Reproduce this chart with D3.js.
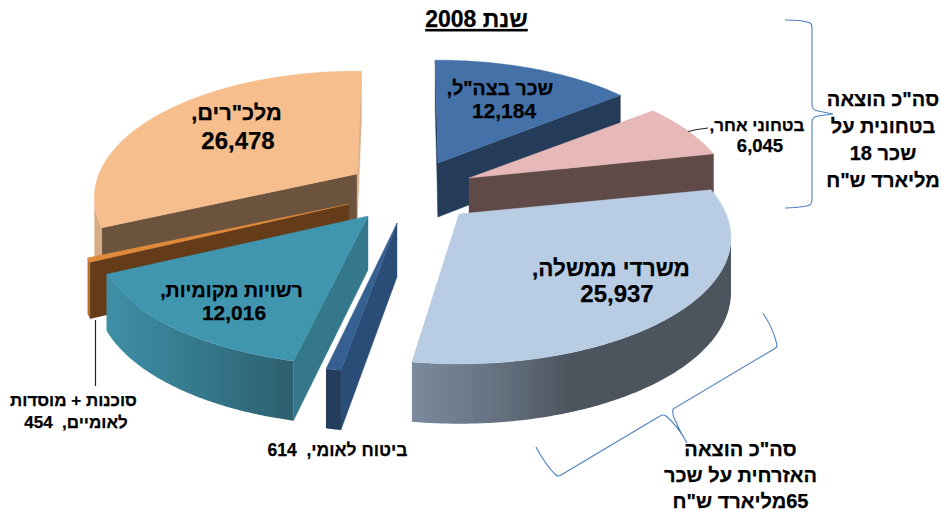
<!DOCTYPE html>
<html lang="he"><head><meta charset="utf-8">
<script src="https://cdnjs.cloudflare.com/ajax/libs/d3/7.8.5/d3.min.js"></script>
<style>html,body{margin:0;padding:0;background:#fff}svg{display:block}
text{font-family:"Liberation Sans",Arial,sans-serif;font-weight:bold;fill:#000;stroke:#000;stroke-width:0.25px;direction:rtl;text-anchor:middle}</style>
</head><body><svg id="c" width="941" height="511"></svg>
<script>
// data (clockwise from top)
const categories = ['שכר בצה"ל','בטחוני אחר','משרדי ממשלה','ביטוח לאומי','רשויות מקומיות','סוכנות + מוסדות לאומיים','מלכ"רים'];
const values = [12184, 6045, 25937, 614, 12016, 454, 26478];
const valueLabels = ['12,184','6,045','25,937','614','12,016','454','26,478'];

// styling & layout
const topColors  = ['#4472a8','#e6b8b7','#b8cce4','#376092','#4096ae','#e08a3c','#f6be8c'];
const wallColors = ['#243c5a','#5f4a48','#4c545d','#2a4d78','#36788b','#643c1a','#6b533e'];
const endWallColors = ['#243c5a','#5f4a48','#4c545d','#2a4d78','#36788b','#643c1a','#dcb08a'];
const rimColors  = ['#243c5a','#5f4a48','url(#gGov)','#243d5c','url(#gLoc)','#b86f2c','#d9ac85'];
const apexX = [438,469,459,397,368,349,357];
const apexY = [163,178,214,223,216,204,174];
const radiusK = [0.99,0.99,1.02,1.04,1.02,1.01,0.985];
const startNudgeDeg = [-0.5,0,0,0,0.9,0,0];
const endNudgeDeg   = [-0.5,0,-1.4,0,0,0,1.4];
const drawOrder = [6,5,4,0,1,2,3];

const svg = d3.select('#c');
const defs = svg.append('defs');
function grad(id,x1,x2,stops){
  const g=defs.append('linearGradient').attr('id',id).attr('gradientUnits','userSpaceOnUse')
    .attr('x1',x1).attr('x2',x2).attr('y1',0).attr('y2',0);
  stops.forEach(s=>g.append('stop').attr('offset',s[0]).attr('stop-color',s[1]));
}
grad('gGov',413,730,[[0,'#7b8a9c'],[0.3,'#626e7c'],[0.5,'#4c545d'],[1,'#4c545d']]);
grad('gLoc',107,296,[[0,'#3f8fa6'],[0.5,'#35788c'],[1,'#2d5e6d']]);

const pie = d3.pie().sort(null).startAngle(-0.004).endAngle(2*Math.PI-0.004);
const arcs = pie(values);
const R=262, T=122, K=0.186, D=54;
const persp = a => 1/(1+K*Math.cos(a));
const px = (a,rk) => R*rk*Math.sin(a)*persp(a);
const py = a => -T*Math.cos(a)*persp(a);
const depth = a => D*Math.sqrt(persp(a));
const line = d3.line().x(d=>d[0]).y(d=>d[1]);
const rad = Math.PI/180;

drawOrder.forEach(i=>{
  const d0=arcs[i], ax=apexX[i], ay=apexY[i], k=radiusK[i];
  const d={startAngle:d0.startAngle+startNudgeDeg[i]*rad,endAngle:d0.endAngle+endNudgeDeg[i]*rad};
  const n=Math.max(3,Math.ceil((d.endAngle-d.startAngle)/0.01));
  const angs=d3.range(n+1).map(j=>d.startAngle+(d.endAngle-d.startAngle)*j/n);
  const P=a=>[ax+px(a,k),ay+py(a)];
  const g=svg.append('g');
  const mid=P((d.startAngle+d.endAngle)/2);
  // radial walls
  [d.startAngle,d.endAngle].forEach((a,w)=>{
    const e=P(a), slope=(e[1]-ay)/(e[0]-ax||1e-6);
    const yOn=ay+slope*(mid[0]-ax);
    if(mid[1]<yOn){
      const col=w?endWallColors[i]:wallColors[i];
      g.append('path').attr('d',line([[ax,ay],e,[e[0],e[1]+depth(a)],[ax,ay+D]])+'Z')
       .attr('fill',col).attr('stroke',col).attr('stroke-width',0.4);
    }
  });
  // outer rim: contiguous parts whose x falls as the angle grows
  let run=[];
  const flush=()=>{
    if(run.length>1){
      const up=run.map(P), low=run.map(a=>{const p=P(a);return [p[0],p[1]+depth(a)];}).reverse();
      g.append('path').attr('d',line(up.concat(low))+'Z').attr('fill',rimColors[i]);
    }
    run=[];
  };
  angs.forEach((a,j)=>{
    if(j<n && P(angs[j+1])[0]<P(a)[0]){ run.push(a);}
    else { if(run.length) run.push(a); flush(); }
  });
  // top face
  g.append('path').attr('d',line([[ax,ay]].concat(angs.map(P)))+'Z')
   .attr('fill',topColors[i]).attr('stroke',topColors[i]).attr('stroke-width',0.4);
});

// leader lines and braces
svg.append('path').attr('d','M688,131.5L697,129.5L708,128').attr('fill','none').attr('stroke','#222').attr('stroke-width',1);
svg.append('path').attr('d','M95.5,320V386').attr('fill','none').attr('stroke','#222').attr('stroke-width',1.2);
const brace='#4f81bd';
svg.append('path').attr('d','M785,20Q804,20 810,23Q812,24 812,28V105Q812,110 818,111L833,114L818,116Q812,117 812,122V200Q812,205 807,206Q796,208 785,208')
  .attr('fill','none').attr('stroke',brace).attr('stroke-width',1.1);
svg.append('path').attr('d','M763,313Q774,330 777,345Q777,348 774,349L673,409Q672,415 675,420Q680,432 687,443Q678,426 666,416Q663,414 660,416L561,475Q558,477 556,475Q546,466 536,447')
  .attr('fill','none').attr('stroke',brace).attr('stroke-width',1.1);

// text
function label(x,y,lines,size,lh){
  const t=svg.append('text').attr('font-size',size);
  lines.forEach((s,j)=>t.append('tspan').attr('x',x).attr('y',y+j*(lh||size*1.2)).text(s));
  return t;
}
label(476.5,27,['שנת 2008'],23).attr('text-decoration','underline');
label(500,95,[categories[0]+','],19.5);
label(504,118,[valueLabels[0]],21);
label(757,131,[categories[1]+','],17);
label(760,152,[valueLabels[1]],18.5);
label(611,276,[categories[2]+','],22.5);
label(617,302,[valueLabels[2]],24);
label(231.5,297,[categories[4]+','],19.6);
label(234,320,[valueLabels[4]],21);
label(236.5,120,[categories[6]+','],21.8);
label(238,149,[valueLabels[6]],24);
label(337.5,456,['ביטוח לאומי,\u00a0\u00a0'+valueLabels[3]],17.5);
label(73.5,406,['סוכנות + מוסדות'],17);
label(76,428,['לאומיים,\u00a0\u00a0'+valueLabels[5]],17);
label(883,106,['סה"כ הוצאה','בטחונית על','שכר 18','מליארד ש"ח'],20,27);
label(740.5,456,['סה"כ הוצאה','האזרחית על שכר','65מליארד ש"ח'],20,26);
</script></body></html>
